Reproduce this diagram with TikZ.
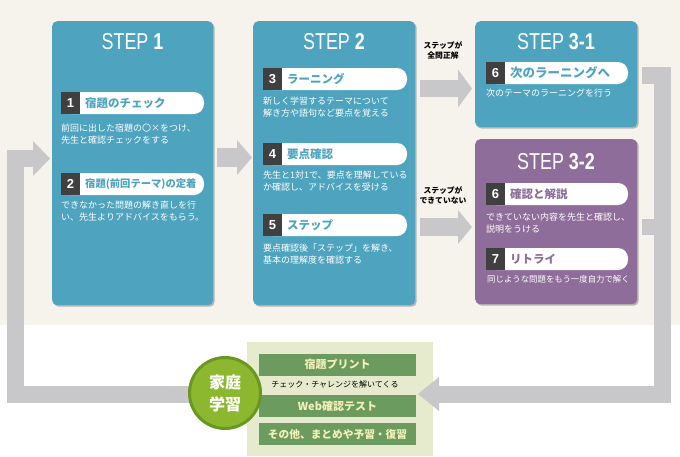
\documentclass[tikz,border=0pt]{standalone}
\usepackage{fontspec}
\setmainfont{Noto Sans CJK JP}
\newfontfamily\stepfont[FakeStretch=0.78]{Liberation Sans}
\newfontfamily\numfont{Liberation Sans}
\usetikzlibrary{arrows.meta,shadows}
\definecolor{bgbeige}{HTML}{F6F2EC}
\definecolor{stepteal}{HTML}{4EA4BF}
\definecolor{steppurple}{HTML}{8E6D9A}
\definecolor{numdark}{HTML}{404040}
\definecolor{arrowgray}{HTML}{C8C8CA}
\definecolor{panelgreen}{HTML}{E5EBCC}
\definecolor{bargreen}{HTML}{6B9B5F}
\definecolor{bartext}{HTML}{F4F1B8}
\definecolor{homefill}{HTML}{8CB830}
\definecolor{homering}{HTML}{6A9622}
\newcommand\hdr[8]{%
  \fill[white,rounded corners=10pt] (#2,#3) rectangle (#5,#4);
  \fill[numdark] (#2,#3) rectangle ({#2+19},#4);
  \node[numtxt] (#1n) at ({#2+9.5},{(#3+#4)/2}) {#6};
  \node[hdtxt,text=#8] (#1) at ({#2+24},{(#3+#4)/2}) {#7};
}
\begin{document}
\begin{tikzpicture}[x=1pt,y=-1pt,
  stepbox/.style={rounded corners=5pt,anchor=north west,inner sep=0,
    drop shadow={shadow xshift=1.5pt,shadow yshift=-1.5pt,opacity=0.25,fill=black}},
  titletxt/.style={text=white,inner sep=0,font=\stepfont\fontsize{23}{23}\selectfont},
  numtxt/.style={text=white,inner sep=0,font=\numfont\bfseries\fontsize{13}{13}\selectfont},
  hdtxt/.style={anchor=west,inner sep=0,font=\bfseries\fontsize{11.5}{12}\selectfont},
  desc/.style={anchor=north west,inner sep=0,text=white,align=left,font=\fontsize{9}{12.5}\selectfont},
  lbl/.style={inner sep=0,align=center,text=black,font=\bfseries\fontsize{7.8}{10}\selectfont},
  garrow/.style={draw=arrowgray,line width=#1,line cap=butt},
  bartxt/.style={fill=bargreen,text=bartext,minimum width=157pt,minimum height=22pt,inner sep=0,
    font=\bfseries\fontsize{11}{11}\selectfont},
]
\useasboundingbox (0,0) rectangle (680,456);
\fill[bgbeige] (0,0) rectangle (680,325);

% step boxes
\node[stepbox,fill=stepteal,minimum width=161pt,minimum height=284pt] (s1) at (52,21) {};
\node[stepbox,fill=stepteal,minimum width=162pt,minimum height=284pt] (s2) at (253,21) {};
\node[stepbox,fill=stepteal,minimum width=162pt,minimum height=106pt] (s31) at (475,21) {};
\node[stepbox,fill=steppurple,minimum width=162pt,minimum height=165pt] (s32) at (475,139) {};

% titles
\node[titletxt] (t1) at (132.5,42) {STEP \textbf{1}};
\node[titletxt] (t2) at (334,42) {STEP \textbf{2}};
\node[titletxt] (t31) at (556,42) {STEP \textbf{3-1}};
\node[titletxt] (t32) at (556,162) {STEP \textbf{3-2}};

% STEP 1
\hdr{h1}{61}{92}{114}{204}{1}{宿題のチェック}{stepteal}
\node[desc] (d1) at (61,123.5) {前回に出した宿題の〇×をつけ、\\先生と確認チェックをする};
\hdr{h2}{61}{173}{195}{204}{2}{\fontsize{10.3}{11}\selectfont 宿題(前回テーマ)の定着}{stepteal}
\node[desc] (d2) at (61,200.5) {できなかった問題の解き直しを行\\い、先生よりアドバイスをもらう。};

% STEP 2
\hdr{h3}{263}{68}{90}{407}{3}{ラーニング}{stepteal}
\node[desc] (d3) at (263,96.5) {新しく学習するテーマについて\\解き方や語句など要点を覚える};
\hdr{h4}{263}{143}{165}{407}{4}{要点確認}{stepteal}
\node[desc] (d4) at (263,170.5) {先生と1対1で、要点を理解している\\か確認し、アドバイスを受ける};
\hdr{h5}{263}{214}{236}{407}{5}{ステップ}{stepteal}
\node[desc] (d5) at (263,243.5) {要点確認後「ステップ」を解き、\\基本の理解度を確認する};

% STEP 3-1
\hdr{h6a}{486}{62}{84}{628}{6}{\fontsize{12.5}{13}\selectfont 次のラーニングへ}{stepteal}
\node[desc] (d6a) at (486,88.5) {次のテーマのラーニングを行う};

% STEP 3-2
\hdr{h6b}{486}{183}{205}{628}{6}{確認と解説}{steppurple}
\node[desc] (d6b) at (486,212.5) {できていない内容を先生と確認し、\\説明をうける};
\hdr{h7}{486}{248}{270}{628}{7}{リトライ}{steppurple}
\node[desc,font=\fontsize{8.4}{12.5}\selectfont] (d7) at (487,275) {同じような問題をもう一度自力で解く};

% arrows between steps
\draw[garrow=19pt,-{Triangle[length=15pt 0 0,width=35pt 0 0,line width=0pt 0 0]}]
  ([xshift=4pt]s1.east |- 0,157.5) -- ([xshift=-1pt]s2.west |- 0,157.5);
\draw[garrow=17pt,-{Triangle[length=14pt 0 0,width=38pt 0 0,line width=0pt 0 0]}]
  ([xshift=5pt]s2.east |- 0,88.5) -- ([xshift=-3pt]s31.west |- 0,88.5);
\draw[garrow=18pt,-{Triangle[length=14pt 0 0,width=34pt 0 0,line width=0pt 0 0]}]
  ([xshift=5pt]s2.east |- 0,227) -- ([xshift=-3pt]s32.west |- 0,227);
\node[lbl] (l1) at (443,50) {ステップが\\全問正解};
\node[lbl] (l2) at (443,195) {ステップが\\できていない};

% home study panel
\node[fill=panelgreen,minimum width=186pt,minimum height=114pt,anchor=north west,inner sep=0] (pan) at (247,342) {};
\node[bartxt] (b1) at (337.5,364.5) {宿題プリント};
\node[inner sep=0,font=\fontsize{8}{8}\selectfont] (b1t) at (335,384.5) {チェック・チャレンジを解いてくる};
\node[bartxt] (b2) at (337.5,406) {Web確認テスト};
\node[bartxt,font=\bfseries\fontsize{10.7}{11}\selectfont] (b3) at (337.5,434) {その他、まとめや予習・復習};

% return connectors
\coordinate (r1) at ([xshift=5pt]s31.east |- 0,75.5);
\coordinate (r2) at ([xshift=5pt]s32.east |- 0,227);
\coordinate (rc) at (662,394);
\coordinate (rt) at (418,394);
\draw[garrow=16pt] (r2) -- (rc |- r2);
\draw[garrow=17pt,line join=miter,-{Triangle[length=21pt 0 0,width=34pt 0 0,line width=0pt 0 0]}]
  (r1) -| (rc) -- (rt);
\coordinate (lc) at (15.5,394);
\draw[garrow=17pt,line join=miter,-{Triangle[length=17pt 0 0,width=35pt 0 0,line width=0pt 0 0]}]
  (225,394) -- (lc) |- ([xshift=-2pt]s1.west |- 0,158.5);

% home circle
\node[circle,fill=homefill,draw=homering,line width=3pt,minimum size=71pt,inner sep=0,
  text=white,align=center,font=\bfseries\fontsize{16}{22}\selectfont] (home) at (225,393) {家庭\\学習};
\end{tikzpicture}
\end{document}
